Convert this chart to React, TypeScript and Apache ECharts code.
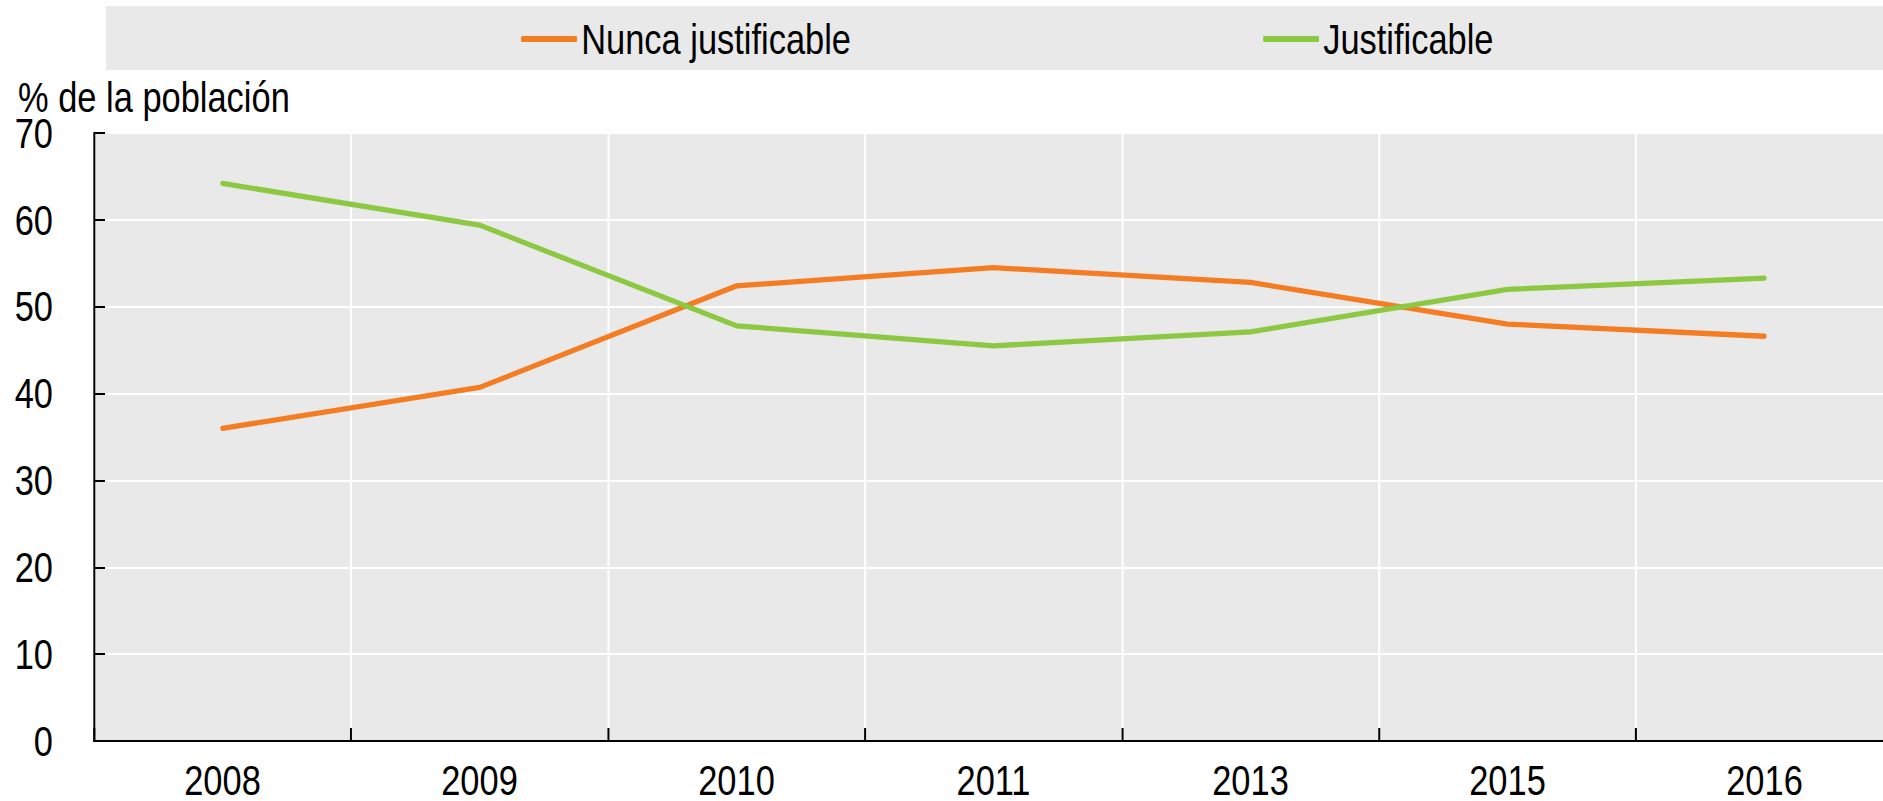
import React, { useEffect, useRef } from "react";
import * as echarts from "echarts";

const categories = ["2008", "2009", "2010", "2011", "2013", "2015", "2016"];
const nuncaJustificable = [36.0, 40.7, 52.4, 54.5, 52.8, 48.0, 46.6];
const justificable = [64.2, 59.4, 47.8, 45.5, 47.1, 52.0, 53.3];
const seriesNames = ["Nunca justificable", "Justificable"];
const yAxisTitle = "% de la población";

// The reference uses a condensed Arial-like face; emulate it by drawing with
// Liberation Sans and squeezing the whole chart horizontally.
const FONT = "'Liberation Sans', Arial, sans-serif";
const FS = 42;
const SX = 0.82;
const px = (v: number) => v / SX;

export default function App() {
  const ref = useRef<HTMLDivElement>(null);
  useEffect(() => {
    document.body.style.margin = "0";
    if (!ref.current) return;
    const chart = echarts.init(ref.current, undefined, { renderer: "svg" });
    const legendBase = {
      top: 13,
      itemWidth: px(56),
      itemHeight: 6,
      icon: "roundRect",
      textStyle: { fontSize: FS, color: "#000", fontFamily: FONT },
    };
    chart.setOption({
      animation: false,
      backgroundColor: "#ffffff",
      textStyle: { fontFamily: FONT },
      graphic: [
        {
          type: "rect",
          shape: { x: px(106), y: 6, width: px(1800), height: 64 },
          style: { fill: "#e9e9e9" },
          z: -10,
        },
        {
          type: "text",
          x: px(18),
          y: 97,
          style: {
            text: yAxisTitle,
            fontSize: FS,
            lineHeight: 30,
            fontFamily: FONT,
            fill: "#000",
            verticalAlign: "middle",
          },
        },
      ],
      legend: [
        { ...legendBase, left: px(517), data: [seriesNames[0]] },
        { ...legendBase, left: px(1259), data: [seriesNames[1]] },
      ],
      grid: {
        left: px(94),
        top: 133,
        bottom: 60,
        width: px(1799),
        show: true,
        backgroundColor: "#e9e9e9",
        borderWidth: 0,
        containLabel: false,
      },
      xAxis: {
        type: "category",
        data: categories,
        boundaryGap: true,
        axisLine: { show: true, lineStyle: { color: "#000", width: 2 } },
        axisTick: {
          show: true,
          inside: true,
          length: 13,
          lineStyle: { color: "#000", width: px(2) },
        },
        splitLine: { show: true, lineStyle: { color: "#ffffff", width: px(2) } },
        axisLabel: {
          fontSize: FS,
          lineHeight: 36,
          color: "#000",
          margin: 21,
          fontFamily: FONT,
        },
      },
      yAxis: {
        type: "value",
        min: 0,
        max: 70,
        interval: 10,
        axisLine: { show: true, lineStyle: { color: "#000", width: px(2) } },
        axisTick: {
          show: true,
          inside: true,
          length: px(11),
          lineStyle: { color: "#000", width: 2 },
        },
        splitLine: { show: true, lineStyle: { color: "#ffffff", width: 2 } },
        axisLabel: {
          fontSize: FS,
          lineHeight: 30,
          color: "#000",
          margin: px(41),
          fontFamily: FONT,
        },
      },
      series: [
        {
          name: seriesNames[0],
          type: "line",
          data: nuncaJustificable,
          symbol: "none",
          lineStyle: { color: "#f47d23", width: 5.3, cap: "round" },
          itemStyle: { color: "#f47d23" },
        },
        {
          name: seriesNames[1],
          type: "line",
          data: justificable,
          symbol: "none",
          lineStyle: { color: "#8cc841", width: 5.3, cap: "round" },
          itemStyle: { color: "#8cc841" },
        },
      ],
    });
    return () => chart.dispose();
  }, []);
  return (
    <div
      style={{
        position: "fixed",
        left: 0,
        top: 0,
        width: 1883,
        height: 801,
        overflow: "hidden",
      }}
    >
      <div
        ref={ref}
        style={{
          width: Math.round(px(1910)),
          height: 801,
          transform: `scaleX(${SX})`,
          transformOrigin: "0 0",
        }}
      />
    </div>
  );
}
